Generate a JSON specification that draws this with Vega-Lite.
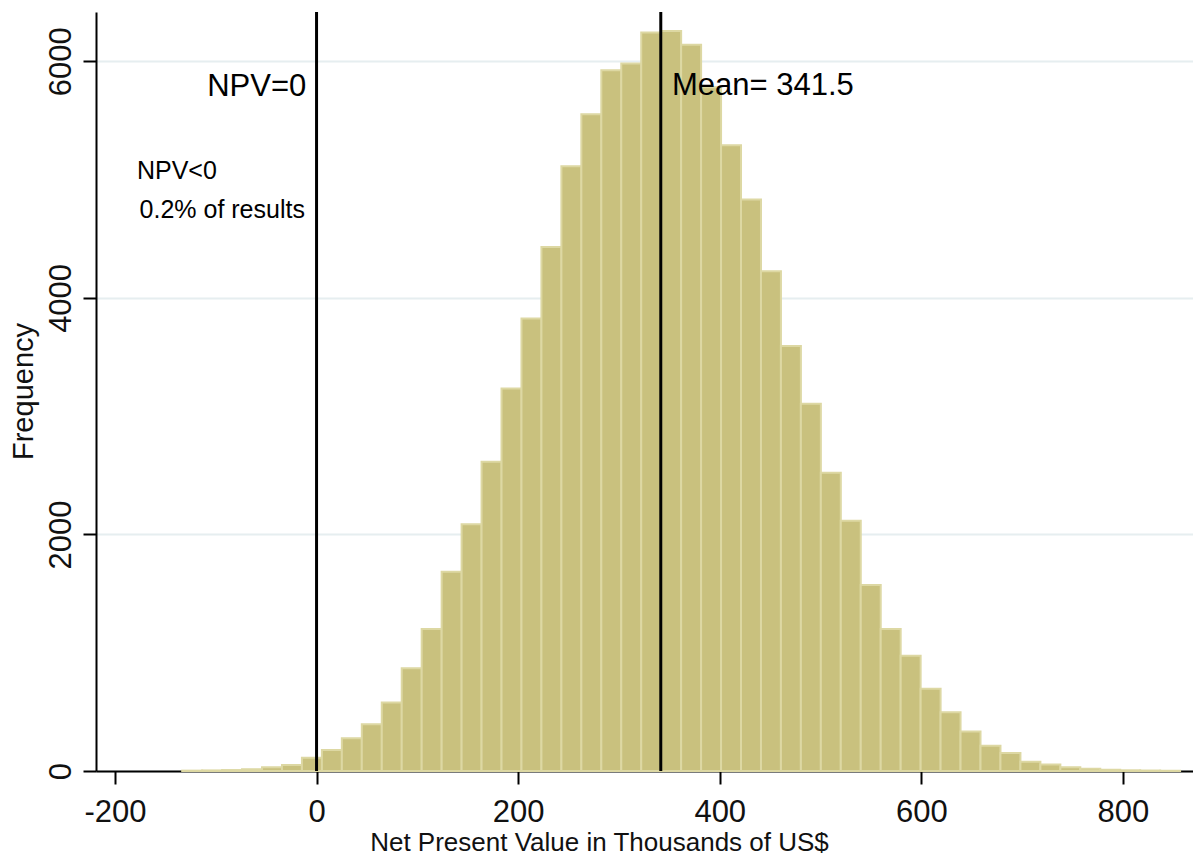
{
  "$schema": "https://vega.github.io/schema/vega-lite/v6.json",
  "width": 1097,
  "height": 759,
  "autosize": "none",
  "padding": {"left": 96, "top": 12, "right": 0, "bottom": 85},
  "background": "white",
  "config": {
    "view": {"stroke": null},
    "font": "Liberation Sans",
    "axis": {"labelFont": "Liberation Sans", "titleFont": "Liberation Sans"}
  },
  "datasets": {
    "bins": [
      {"start": -133.3, "end": -113.5, "count": 3},
      {"start": -113.5, "end": -93.7, "count": 5},
      {"start": -93.7, "end": -73.9, "count": 8},
      {"start": -73.9, "end": -54.1, "count": 15},
      {"start": -54.1, "end": -34.3, "count": 31},
      {"start": -34.3, "end": -14.5, "count": 51},
      {"start": -14.5, "end": 5.3, "count": 112},
      {"start": 5.3, "end": 25.1, "count": 177},
      {"start": 25.1, "end": 44.9, "count": 276},
      {"start": 44.9, "end": 64.7, "count": 395},
      {"start": 64.7, "end": 84.5, "count": 580},
      {"start": 84.5, "end": 104.3, "count": 868},
      {"start": 104.3, "end": 124.1, "count": 1200},
      {"start": 124.1, "end": 143.9, "count": 1684},
      {"start": 143.9, "end": 163.7, "count": 2087},
      {"start": 163.7, "end": 183.5, "count": 2614},
      {"start": 183.5, "end": 203.3, "count": 3234},
      {"start": 203.3, "end": 223.1, "count": 3826},
      {"start": 223.1, "end": 242.9, "count": 4431},
      {"start": 242.9, "end": 262.7, "count": 5113},
      {"start": 262.7, "end": 282.5, "count": 5552},
      {"start": 282.5, "end": 302.3, "count": 5924},
      {"start": 302.3, "end": 322.1, "count": 5981},
      {"start": 322.1, "end": 341.9, "count": 6243},
      {"start": 341.9, "end": 361.7, "count": 6256},
      {"start": 361.7, "end": 381.5, "count": 6141},
      {"start": 381.5, "end": 401.3, "count": 5780},
      {"start": 401.3, "end": 421.1, "count": 5290},
      {"start": 421.1, "end": 440.9, "count": 4831},
      {"start": 440.9, "end": 460.7, "count": 4225},
      {"start": 460.7, "end": 480.5, "count": 3594},
      {"start": 480.5, "end": 500.3, "count": 3104},
      {"start": 500.3, "end": 520.1, "count": 2521},
      {"start": 520.1, "end": 539.9, "count": 2115},
      {"start": 539.9, "end": 559.7, "count": 1572},
      {"start": 559.7, "end": 579.5, "count": 1200},
      {"start": 579.5, "end": 599.3, "count": 975},
      {"start": 599.3, "end": 619.1, "count": 696},
      {"start": 619.1, "end": 638.9, "count": 496},
      {"start": 638.9, "end": 658.7, "count": 335},
      {"start": 658.7, "end": 678.5, "count": 214},
      {"start": 678.5, "end": 698.3, "count": 152},
      {"start": 698.3, "end": 718.1, "count": 79},
      {"start": 718.1, "end": 737.9, "count": 56},
      {"start": 737.9, "end": 757.7, "count": 31},
      {"start": 757.7, "end": 777.5, "count": 20},
      {"start": 777.5, "end": 797.3, "count": 10},
      {"start": 797.3, "end": 817.1, "count": 6},
      {"start": 817.1, "end": 836.9, "count": 4},
      {"start": 836.9, "end": 856.7, "count": 2}
    ],
    "lines": [{"v": 0}, {"v": 341.5}],
    "bigText": [
      {"x": -10.2, "y": 5709, "label": "NPV=0", "pos": "right"},
      {"x": 352.6, "y": 5717, "label": "Mean= 341.5", "pos": "left"}
    ],
    "notes": [
      {"x": -178.2, "y": 5003, "label": "NPV<0"},
      {"x": -175.6, "y": 4673, "label": "0.2% of results"}
    ]
  },
  "layer": [
    {
      "data": {"name": "bins"},
      "mark": {"type": "rect", "fill": "#c9c17e", "stroke": "#ddd8a3", "strokeWidth": 2},
      "encoding": {
        "x": {
          "field": "start", "type": "quantitative",
          "scale": {"domain": [-218.8, 869.5], "nice": false, "zero": false},
          "axis": {
            "values": [-200, 0, 200, 400, 600, 800],
            "labelExpr": "'' + datum.value",
            "title": "Net Present Value in Thousands of US$",
            "titleFontSize": 26, "titleFontWeight": "normal", "titleColor": "#111",
            "titleX": 503, "titleY": 79, "titleBaseline": "alphabetic", "titleAlign": "center",
            "labelFontSize": 31, "labelColor": "#111", "labelBaseline": "alphabetic", "labelPadding": 37,
            "tickSize": 13, "tickWidth": 2, "tickColor": "black",
            "domainColor": "black", "domainWidth": 2,
            "grid": false, "labelFlush": false, "labelOverlap": false
          }
        },
        "x2": {"field": "end"},
        "y": {
          "field": "count", "type": "quantitative",
          "scale": {"domain": [0, 6417], "nice": false},
          "axis": {
            "values": [0, 2000, 4000, 6000],
            "labelExpr": "'' + datum.value",
            "title": "Frequency",
            "titleFontSize": 29, "titleFontWeight": "normal", "titleColor": "#111",
            "titleX": -64, "titleY": 379, "titleBaseline": "alphabetic", "titleAlign": "center", "titleAngle": -90,
            "labelFontSize": 31, "labelColor": "#111", "labelAngle": -90, "labelAlign": "center", "labelBaseline": "alphabetic", "labelPadding": 13,
            "tickSize": 13, "tickWidth": 2, "tickColor": "black",
            "domainColor": "black", "domainWidth": 2,
            "grid": true, "gridColor": "#e6eef0", "gridWidth": 2,
            "labelFlush": false, "labelOverlap": false
          }
        },
        "y2": {"datum": 0}
      }
    },
    {
      "data": {"name": "lines"},
      "mark": {"type": "rule", "color": "black", "strokeWidth": 3},
      "encoding": {"x": {"field": "v", "type": "quantitative"}}
    },
    {
      "data": {"name": "bigText"},
      "transform": [{"filter": "datum.pos === 'right'"}],
      "mark": {"type": "text", "fontSize": 31, "align": "right", "baseline": "alphabetic", "color": "black"},
      "encoding": {
        "x": {"field": "x", "type": "quantitative"},
        "y": {"field": "y", "type": "quantitative"},
        "text": {"field": "label"}
      }
    },
    {
      "data": {"name": "bigText"},
      "transform": [{"filter": "datum.pos === 'left'"}],
      "mark": {"type": "text", "fontSize": 31, "align": "left", "baseline": "alphabetic", "color": "black"},
      "encoding": {
        "x": {"field": "x", "type": "quantitative"},
        "y": {"field": "y", "type": "quantitative"},
        "text": {"field": "label"}
      }
    },
    {
      "data": {"name": "notes"},
      "mark": {"type": "text", "fontSize": 25, "align": "left", "baseline": "alphabetic", "color": "black"},
      "encoding": {
        "x": {"field": "x", "type": "quantitative"},
        "y": {"field": "y", "type": "quantitative"},
        "text": {"field": "label"}
      }
    }
  ]
}
